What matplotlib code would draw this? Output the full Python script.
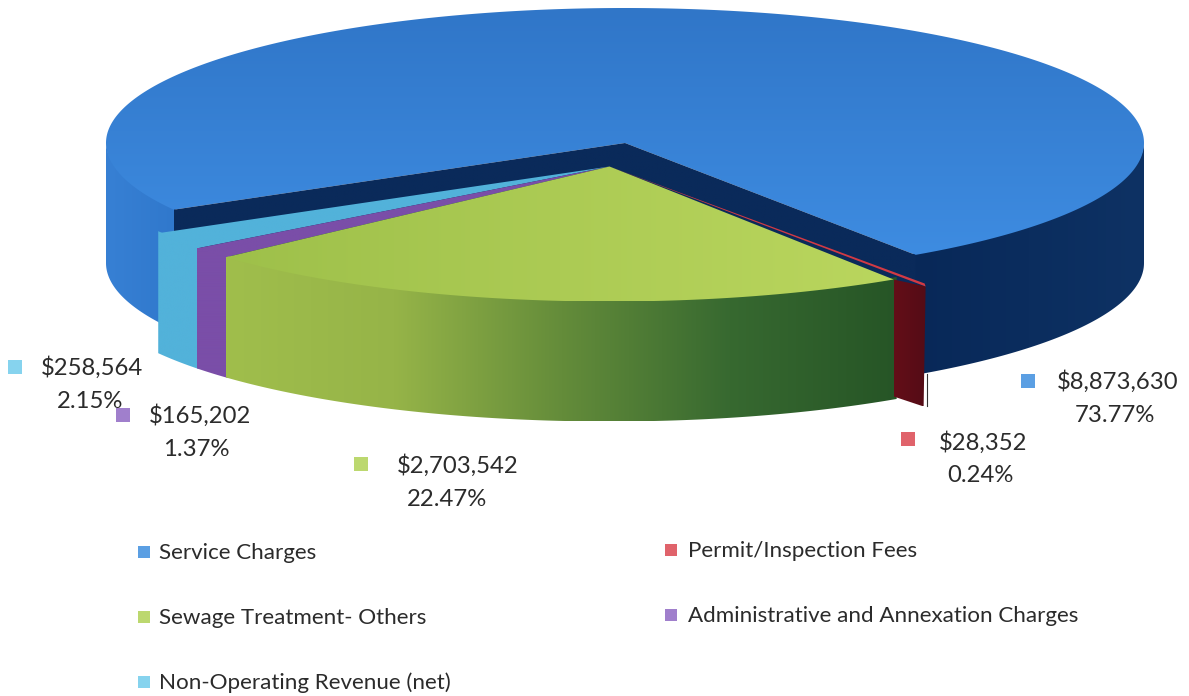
import numpy as np
import matplotlib
matplotlib.use("Agg")
import matplotlib.pyplot as plt
from matplotlib.patches import Polygon

plt.rcParams['font.family'] = ['Lato', 'DejaVu Sans']

# Data
names = ['Service Charges', 'Permit/Inspection Fees', 'Sewage Treatment- Others',
         'Administrative and Annexation Charges', 'Non-Operating Revenue (net)']
values = [8873630, 28352, 2703542, 165202, 258564]
money_labels = ['$8,873,630', '$28,352', '$2,703,542', '$165,202', '$258,564']
pct_labels = ['73.77%', '0.24%', '22.47%', '1.37%', '2.15%']
swatch_colors = ['#5b9fe3', '#e0636b', '#bcd86f', '#a07fcc', '#86d3ee']

# Pie geometry in image pixels
start_angle = 209.6
rx, ry = 519, 135
depth = 120
main_c = (625, 143)
pulled_c = (609.5, 166.5)
red_face = (32, 7)
overlap = 0.4

fig = plt.figure(figsize=(11.89, 6.96), dpi=100)
ax = fig.add_axes([0, 0, 1, 1])


def rim(c, t):
    t = np.radians(t)
    return np.column_stack([c[0] + rx * np.cos(t), c[1] - ry * np.sin(t)])


def arc(c, t0, t1):
    n = max(int(abs(t1 - t0) * 2), 2)
    return rim(c, np.linspace(t0, t1, n))


def wedge_top(c, t0, t1):
    return np.vstack([[c], arc(c, t0, t1)])


def wall(c, t0, t1):
    a = arc(c, t0, t1)
    return np.vstack([a - [0, 2], (a + [0, depth])[::-1]])


def fill(pts, stops, vertical=False, z=1):
    # polygon painted with a clipped linear gradient through the colour stops
    stops = np.array(stops, dtype=float) / 255
    ramp = np.linspace(0, 1, 256)
    pos = np.linspace(0, 1, len(stops))
    colors = np.column_stack([np.interp(ramp, pos, stops[:, k]) for k in range(3)])
    img = colors[:, None, :] if vertical else colors[None, :, :]
    x0, y0 = pts.min(axis=0)
    x1, y1 = pts.max(axis=0)
    im = ax.imshow(img, extent=(x0, x1, y1, y0), aspect='auto', zorder=z, interpolation='bilinear')
    im.set_clip_path(Polygon(pts, closed=True, transform=ax.transData))


# Slice angles, clockwise from the start angle
sweeps = np.array(values) / sum(values) * 360
ends = start_angle - np.cumsum(sweeps)
starts = np.concatenate([[start_angle], ends[:-1]])

# Main blue slice
blue_t0, blue_t1 = starts[0], ends[0]
fill(wall(main_c, 0, blue_t1 - overlap), [(8, 40, 88), (14, 50, 100)], z=1)
fill(wall(main_c, 180, blue_t0 + overlap), [(55, 128, 212), (48, 120, 204)], z=1)
fill(wedge_top(main_c, blue_t0, blue_t1), [(48, 118, 200), (62, 140, 225)], vertical=True, z=2)
for t in (blue_t0, blue_t1):
    p = rim(main_c, t)[0]
    face = np.array([main_c, p, p + [0, depth], np.array(main_c) + [0, depth]])
    fill(face, [(10, 42, 90), (10, 42, 90)], z=3)

# Pulled out slices: red, green, purple, cyan
red_p = rim(pulled_c, ends[1])[0]
red_corner = red_p + red_face
red_wall = np.array([red_p, red_corner, red_corner + [-2, depth], red_p + [0, depth - 3]])
fill(red_wall, [(100, 14, 24), (84, 12, 22)], z=7)
red_line = np.array([pulled_c, red_corner, red_corner + [-1, -3]])
ax.add_patch(Polygon(red_line, closed=True, facecolor='#d23a44', edgecolor='none', zorder=7))
ax.plot([red_corner[0] + 1.5] * 2, [red_corner[1] + 88, red_corner[1] + depth], color='#333333', lw=0.8, zorder=5)

fill(wall(pulled_c, starts[2] + overlap, ends[2]),
     [(160, 190, 76), (150, 180, 72), (100, 140, 58), (55, 105, 48), (38, 85, 38)], z=5)
fill(wedge_top(pulled_c, starts[2], ends[2]), [(158, 192, 74), (186, 214, 94)], z=6)
fill(wall(pulled_c, starts[3] + overlap, ends[3]), [(122, 78, 168), (122, 78, 168)], z=4)
fill(wedge_top(pulled_c, starts[3], ends[3]), [(122, 78, 168), (122, 78, 168)], z=5)
fill(wall(pulled_c, starts[4] + overlap, ends[4]), [(82, 178, 218), (82, 178, 218)], z=3.5)
fill(wedge_top(pulled_c, starts[4], ends[4]), [(82, 178, 218), (82, 178, 218)], z=4.5)

# Data labels: swatch position, money position, percent position
label_swatch = [(1028, 381), (908, 439), (361, 464), (123, 415), (15, 367)]
label_money = [(1118, 382), (983, 443), (458, 466), (200, 416), (92, 368)]
label_pct = [(1115, 416), (980, 475), (447, 500), (196, 450), (90, 401)]
for i in range(len(values)):
    ax.scatter(*label_swatch[i], marker='s', s=100, color=swatch_colors[i], linewidths=0, zorder=10)
    ax.text(*label_money[i], money_labels[i], fontsize=17.2, color='#2b2b2b', ha='center', va='center', zorder=11)
    ax.text(*label_pct[i], pct_labels[i], fontsize=17.2, color='#2b2b2b', ha='center', va='center', zorder=11)

# Legend
legend_xy = [(144, 552), (671, 550), (144, 617), (671, 615), (144, 682)]
for i in range(len(names)):
    x, y = legend_xy[i]
    ax.scatter(x, y, marker='s', s=85, color=swatch_colors[i], linewidths=0, zorder=10)
    ax.text(x + 15 + (x > 400) * 2, y + 1, names[i], fontsize=16.1, color='#2b2b2b', ha='left', va='center', zorder=11)

ax.set_xlim(0, 1189)
ax.set_ylim(696, 0)
ax.axis('off')

plt.savefig('out.png', dpi=100)
